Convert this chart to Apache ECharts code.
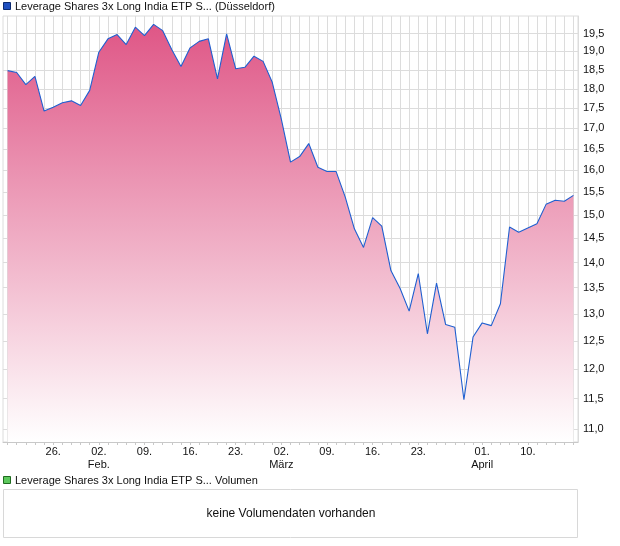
<!DOCTYPE html>
<html><head><meta charset="utf-8">
<script src="https://cdn.jsdelivr.net/npm/echarts@6/dist/echarts.min.js"></script>
<style>html,body{margin:0;padding:0;background:#fff}#c{width:620px;height:546px}</style>
</head><body><div id="c"></div>
<script>
const dates = [
 '19.01.','20.01.','21.01.','22.01.','23.01.','26.01.','27.01.','28.01.','29.01.','30.01.',
 '02.02.','03.02.','04.02.','05.02.','06.02.','09.02.','10.02.','11.02.','12.02.','13.02.',
 '16.02.','17.02.','18.02.','19.02.','20.02.','23.02.','24.02.','25.02.','26.02.','27.02.',
 '02.03.','03.03.','04.03.','05.03.','06.03.','09.03.','10.03.','11.03.','12.03.','13.03.',
 '16.03.','17.03.','18.03.','19.03.','20.03.','23.03.','24.03.','25.03.','26.03.','27.03.',
 '30.03.','31.03.','01.04.','02.04.','07.04.','08.04.','09.04.','10.04.','13.04.','14.04.',
 '15.04.','16.04.','17.04.'
];
const prices = [
 18.48,18.43,18.11,18.33,17.43,17.53,17.64,17.69,17.57,17.96,
 18.98,19.35,19.47,19.19,19.68,19.44,19.76,19.58,19.05,18.59,
 19.10,19.28,19.35,18.26,19.49,18.53,18.57,18.87,18.73,18.17,
 17.22,16.19,16.32,16.63,16.07,15.97,15.97,15.39,14.70,14.31,
 14.94,14.76,13.84,13.49,13.05,13.78,12.63,13.59,12.80,12.75,
 11.48,12.57,12.83,12.78,13.19,14.74,14.63,14.72,14.81,15.23,
 15.32,15.30,15.43
];
const yTicks = [11.0,11.5,12.0,12.5,13.0,13.5,14.0,14.5,15.0,15.5,16.0,16.5,17.0,17.5,18.0,18.5,19.0,19.5];
const xLabelDates = ['26.01.','02.02.','09.02.','16.02.','23.02.','02.03.','09.03.','16.03.','23.03.','01.04.','10.04.'];
const xLabelTexts = ['26.','02.\nFeb.','09.','16.','23.','02.\nMärz','09.','16.','23.','01.\nApril','10.'];
const titleText = 'Leverage Shares 3x Long India ETP S... (Düsseldorf)';
const volumeTitle = 'Leverage Shares 3x Long India ETP S... Volumen';
const noVolumeText = 'keine Volumendaten vorhanden';

const FONT = '"Liberation Sans", Arial, sans-serif';
const chart = echarts.init(document.getElementById('c'), null, {renderer:'canvas'});
chart.setOption({
  animation: false,
  backgroundColor: '#ffffff',
  grid: {left: 3, top: 16, right: 42, bottom: 104, show: true, borderColor: '#dcdcdc', borderWidth: 1, backgroundColor: 'transparent'},
  xAxis: {
    type: 'category', data: dates, boundaryGap: true,
    axisLine: {show: true, lineStyle: {color: '#c8c8c8', width: 1}},
    axisTick: {show: true, interval: 0, alignWithLabel: true, length: 3, lineStyle: {color: '#c8c8c8'}},
    axisLabel: {
      interval: (i, v) => xLabelDates.indexOf(v) >= 0,
      formatter: v => { const k = xLabelDates.indexOf(v); return k >= 0 ? xLabelTexts[k] : ''; },
      color: '#111', fontSize: 11, lineHeight: 13, margin: 3, fontFamily: FONT
    },
    splitLine: {show: true, interval: 0, alignWithLabel: true, lineStyle: {color: '#dcdcdc', width: 1}}
  },
  yAxis: {
    type: 'log', logBase: 10, min: 10.8, max: 20, position: 'right',
    axisLine: {show: true, lineStyle: {color: '#dcdcdc'}},
    axisTick: {show: false, customValues: yTicks},
    axisLabel: {customValues: yTicks, formatter: v => Number(v).toFixed(1).replace('.', ','), color: '#111', fontSize: 11, margin: 5, fontFamily: FONT},
    splitLine: {show: true, lineStyle: {color: '#dcdcdc', width: 1}}
  },
  series: [{
    type: 'line', data: prices, symbol: 'none', showSymbol: false,
    lineStyle: {color: '#1f5fd0', width: 1.1},
    areaStyle: {opacity: 1, color: new echarts.graphic.LinearGradient(0, 0, 0, 1, [
      {offset: 0, color: '#df5686'}, {offset: 1, color: '#ffffff'}
    ])}
  }],
  graphic: [
    {type: 'rect', shape: {x: 3.5, y: 2.5, width: 7, height: 7}, style: {fill: '#1f50c0', stroke: '#0b2a70', lineWidth: 1}},
    {type: 'text', x: 15, y: 6.5, style: {text: titleText, font: '11px ' + FONT, fill: '#111', verticalAlign: 'middle'}},
    {type: 'rect', shape: {x: 3.5, y: 476.5, width: 7, height: 7}, style: {fill: '#5cc85c', stroke: '#1f6a1f', lineWidth: 1}},
    {type: 'text', x: 15, y: 480.5, style: {text: volumeTitle, font: '11px ' + FONT, fill: '#111', verticalAlign: 'middle'}},
    {type: 'rect', shape: {x: 3.5, y: 489.5, width: 574, height: 48}, style: {fill: 'none', stroke: '#d8d8d8', lineWidth: 1}},
    {type: 'text', x: 291, y: 514, style: {text: noVolumeText, font: '12px ' + FONT, fill: '#111', align: 'center', verticalAlign: 'middle'}}
  ]
});
</script></body></html>
